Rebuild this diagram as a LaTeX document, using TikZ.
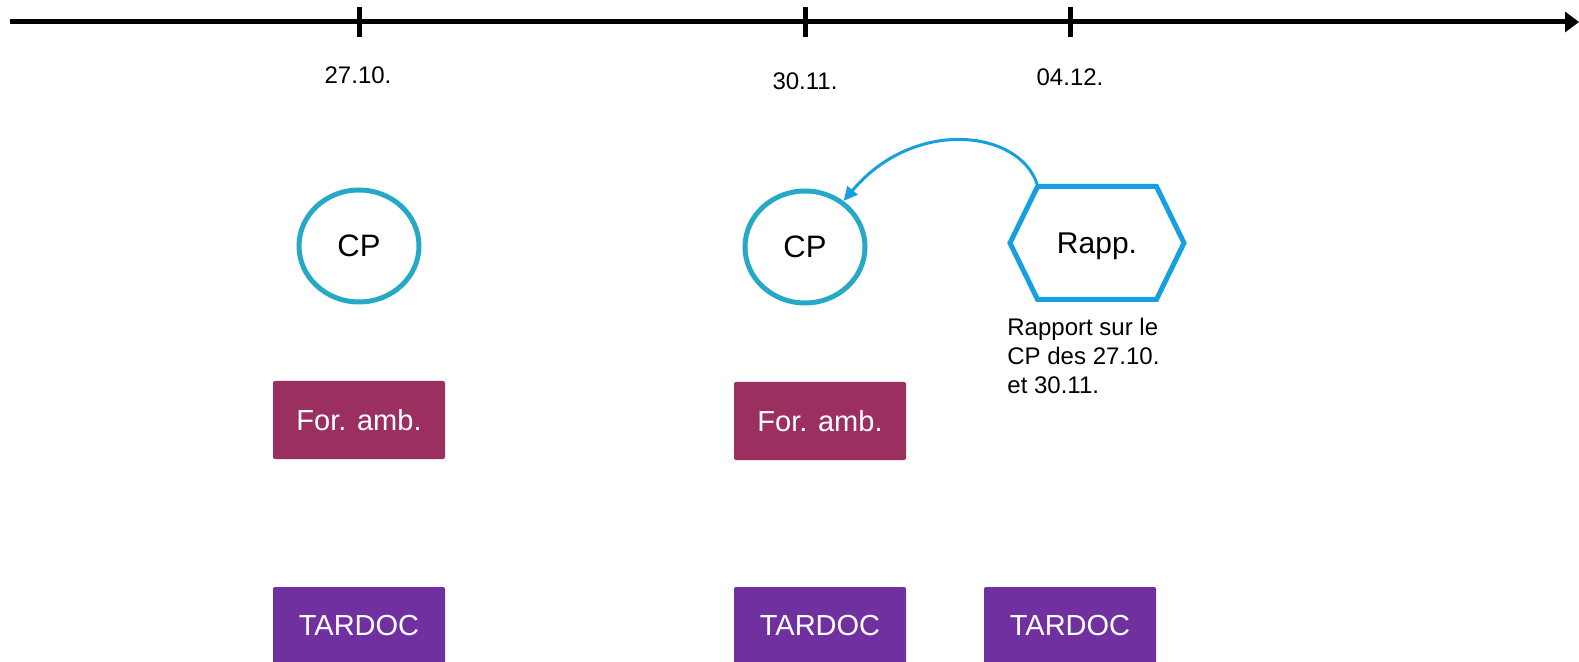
\documentclass[tikz,border=0pt]{standalone}
\usepackage{fontspec}
\setmainfont{Liberation Sans}
\usepackage{xcolor}
\usepackage{tikz}
\usetikzlibrary{positioning,arrows.meta,shapes.geometric,shapes.symbols}

\definecolor{cpteal}{RGB}{38,169,199}
\definecolor{rappblue}{RGB}{21,160,225}
\definecolor{ambred}{RGB}{155,48,96}
\definecolor{tarpurple}{RGB}{112,48,160}

\begin{document}
\begin{tikzpicture}[
    x=0.5pt,y=-0.5pt,
    axis/.style={line width=2.5pt,-{Triangle[length=7pt,width=10pt]}},
    tick/.style={line width=2.5pt},
    date/.style={font=\fontsize{12}{14}\selectfont,inner sep=0pt},
    cp/.style={ellipse,draw=cpteal,line width=2.5pt,minimum width=60pt,minimum height=56pt,inner sep=0pt,font=\fontsize{15.5}{18}\selectfont},
    rapp/.style={signal,signal to=east and west,signal pointer angle=128,draw=rappblue,line width=2.5pt,minimum width=87pt,minimum height=56.5pt,inner sep=0pt,text depth=0pt,font=\fontsize{15}{18}\selectfont},
    box/.style={rounded corners=1pt,text=white,minimum width=86pt,minimum height=39pt,inner sep=0pt,font=\fontsize{14.5}{17}\selectfont},
    amb/.style={box,fill=ambred},
    tar/.style={box,fill=tarpurple},
    link/.style={draw=rappblue,line width=1.5pt,-{Triangle[length=7pt,width=6.5pt]}},
    node distance=4mm
  ]
    \clip (0,0) rectangle (1579,662);
    % timeline
    \coordinate (start) at (10,22);
    \coordinate (end) at (1579,22);
    \draw[axis] (start) -- (end);
    \draw[tick] (359,7) -- (359,37);
    \draw[tick] (805,7) -- (805,37);
    \draw[tick] (1070,7) -- (1070,37);
    \node[date] (d1) at (358,75) {27.10.};
    \node[date] (d2) at (805,81) {30.11.};
    \node[date] (d3) at (1070,77) {04.12.};
    % sessions
    \node[cp] (cp1) at (359,246) {CP};
    \node[cp] (cp2) at (805,247) {CP};
    \node[rapp] (rapp) at (1097,243) {Rapp.};
    \node[date,align=left,anchor=north west,font=\fontsize{12}{14.5}\selectfont] (note) at (1007,318) {Rapport sur le\\CP des 27.10.\\et 30.11.};
    \node[amb] (amb1) at (359,420) {For. amb.};
    \node[amb] (amb2) at (820,421) {For. amb.};
    \node[tar] (tar1) at (359,626) {TARDOC};
    \node[tar] (tar2) at (820,626) {TARDOC};
    \node[tar] (tar3) at (1070,626) {TARDOC};
    \draw[link] ([xshift=-30pt]rapp.north) to[out=108,in=50,out looseness=0.75,in looseness=1.45] (cp2);
  \end{tikzpicture}
\end{document}
